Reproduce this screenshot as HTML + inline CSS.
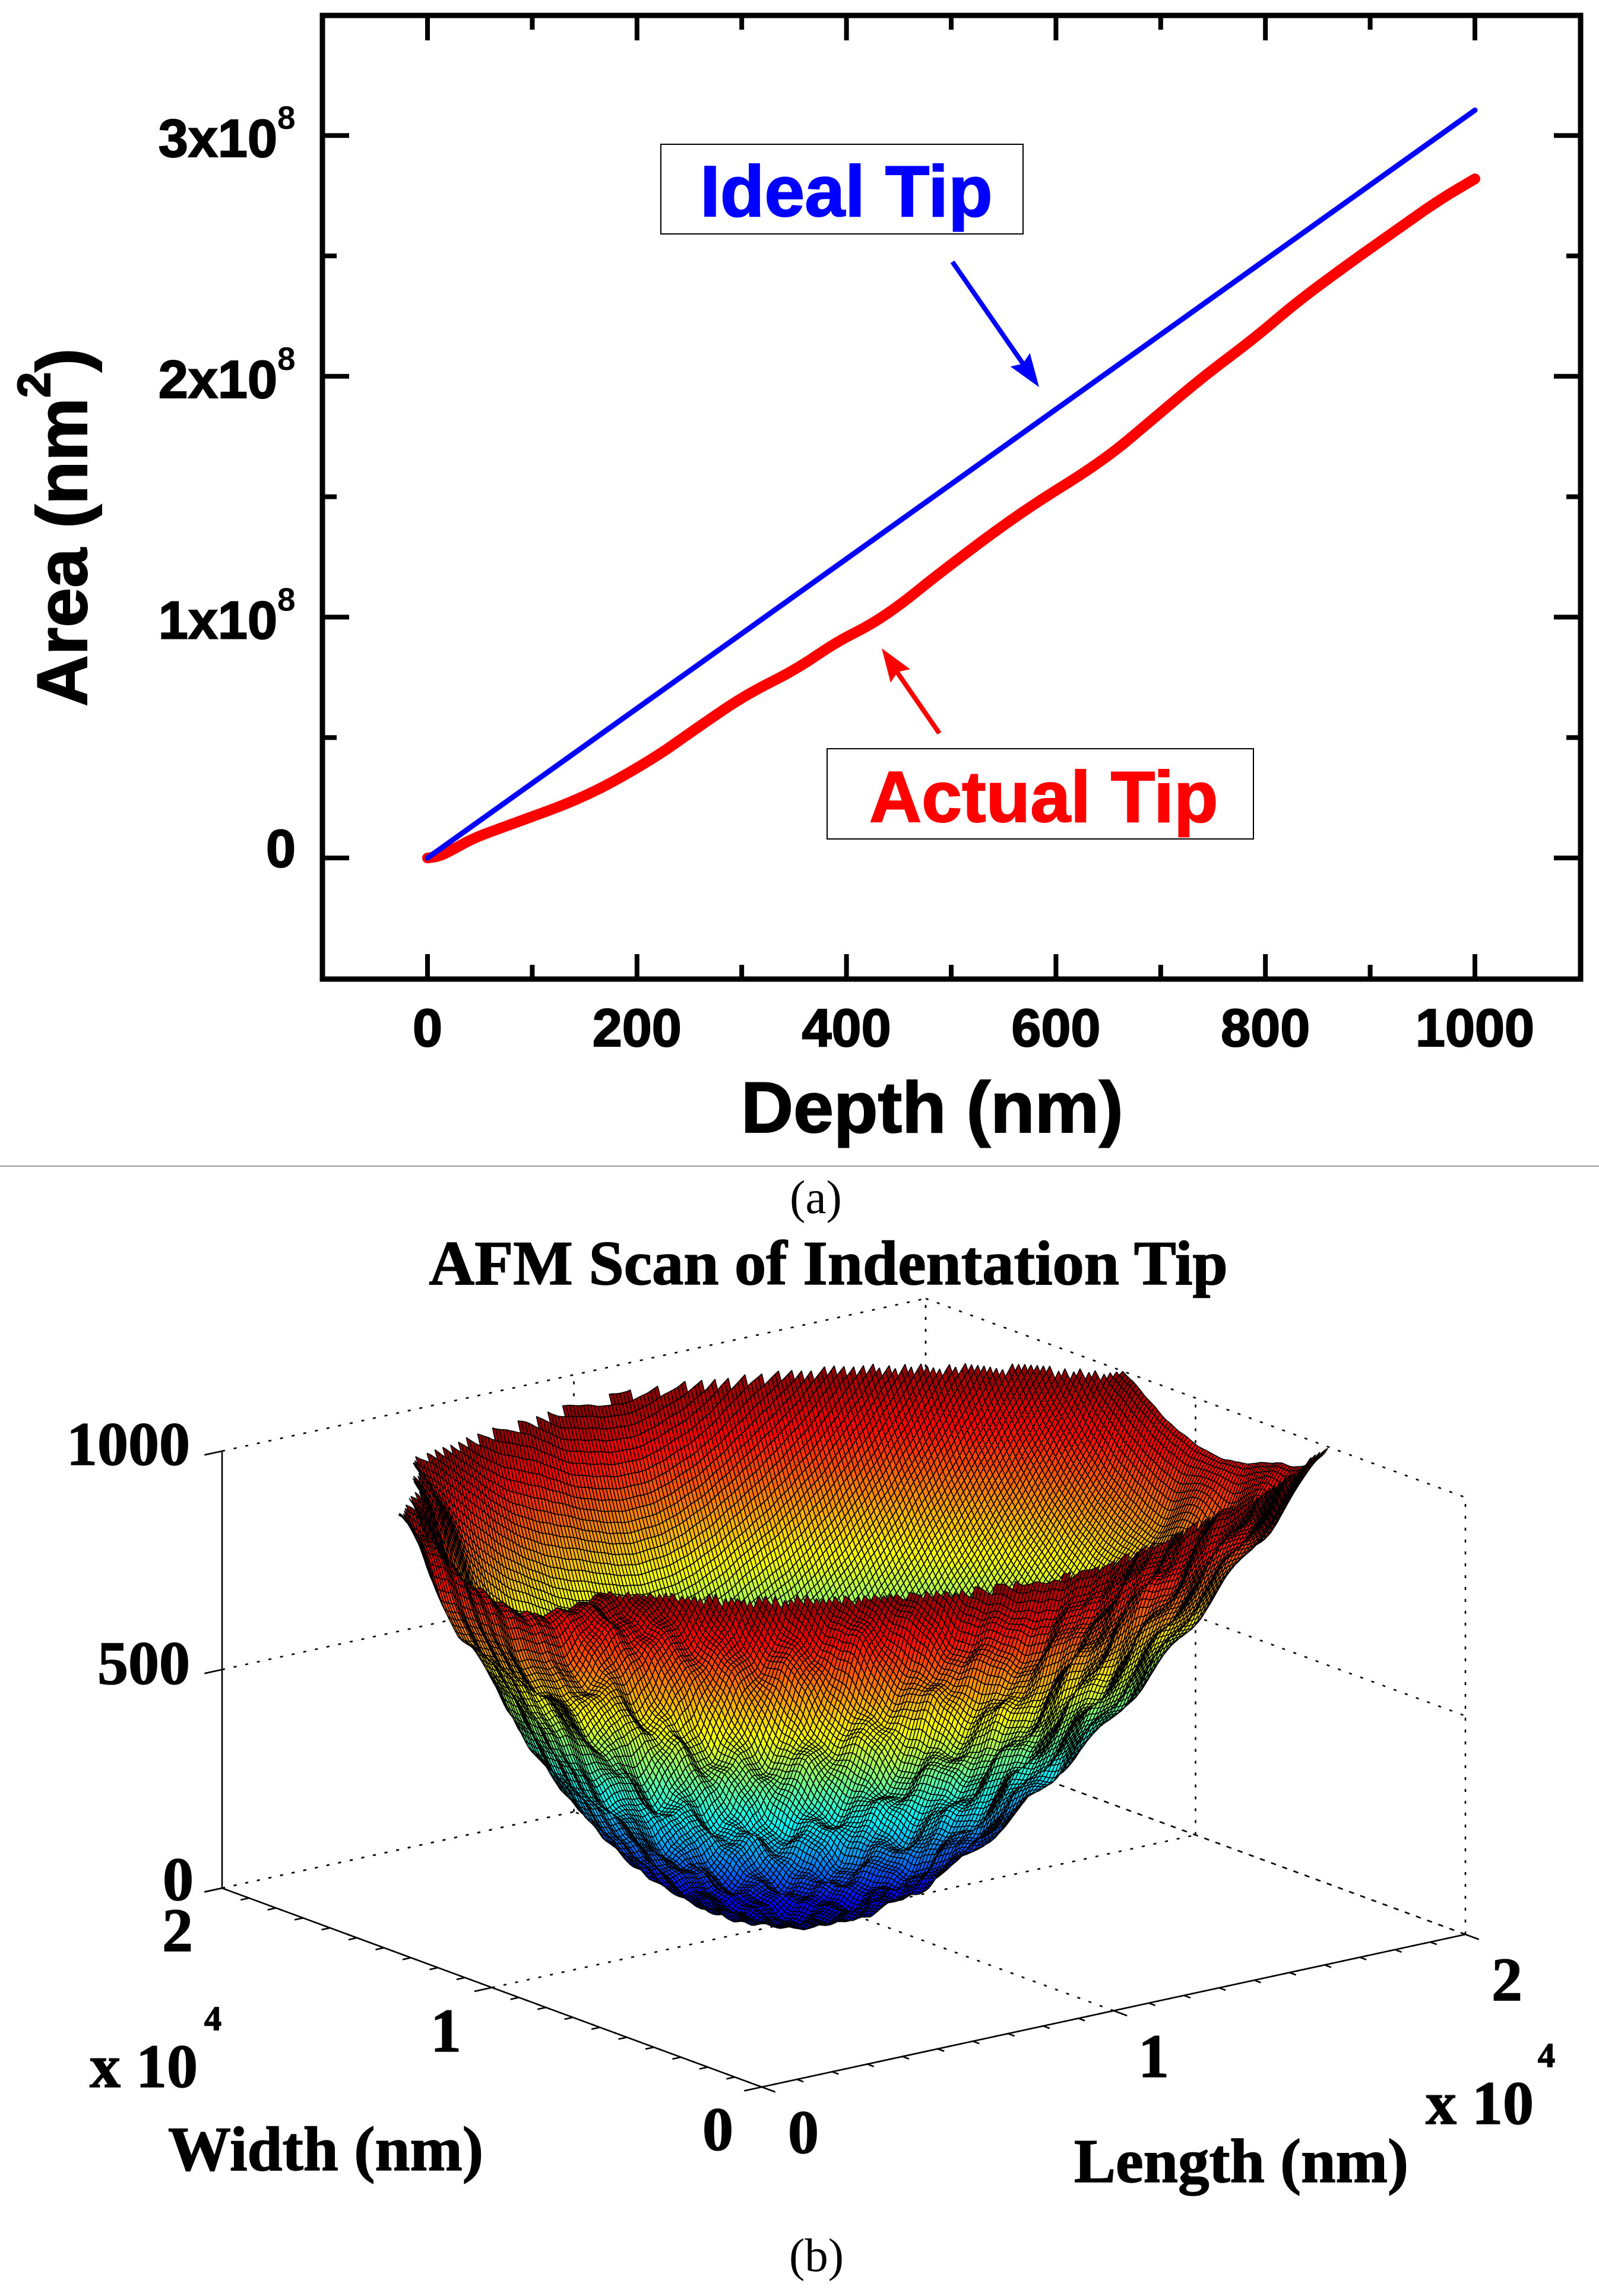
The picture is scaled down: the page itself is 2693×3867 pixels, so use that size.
<!DOCTYPE html>
<html lang="en">
<head>
<meta charset="utf-8">
<title>Indenter tip area and AFM scan</title>
<style>
html,body{margin:0;padding:0;background:#fff;}
svg{display:block;}
.sans{font-family:"Liberation Sans",sans-serif;font-weight:bold;stroke-width:2px;}
.serif{font-family:"Liberation Serif",serif;font-weight:bold;stroke:#000;stroke-width:1.5px;}
</style>
</head>
<body>
<svg id="fig" xmlns="http://www.w3.org/2000/svg" width="2693" height="3867" viewBox="0 0 2693 3867">
  <rect x="0" y="0" width="2693" height="3867" fill="#fff"/>
  <g id="plotA"></g>
  <line x1="0" y1="1964" x2="2693" y2="1964" stroke="#9a9a9a" stroke-width="2"/>
  <text x="1374" y="2043" font-family="Liberation Serif, serif" font-size="79" text-anchor="middle">(a)</text>
  <g id="plotB"></g>
  <text x="1375" y="3825" font-family="Liberation Serif, serif" font-size="79" text-anchor="middle">(b)</text>
</svg>
<script>
/* ---------- Panel (a) data ---------- */
const depthTicks = [0, 200, 400, 600, 800, 1000];
const depthMinorTicks = [100, 300, 500, 700, 900];
const areaTicks = [0, 1, 2, 3];
const areaTickLabels = ['0', '1x10', '2x10', '3x10'];
const areaMinorTicks = [0.5, 1.5, 2.5];
const idealDepth = [0, 1000];
const idealArea = [0, 3.105];
const actualDepth = [0, 10, 20, 45, 79, 152, 215, 254, 303, 351, 390, 424, 454, 488, 566, 644, 692, 741, 790, 829, 877, 926, 965, 1000];
const actualArea = [0, 0.005, 0.025, 0.085, 0.138, 0.255, 0.41, 0.53, 0.676, 0.78, 0.896, 0.97, 1.06, 1.18, 1.435, 1.645, 1.82, 2.0, 2.16, 2.305, 2.46, 2.61, 2.73, 2.82];

/* ---------- Panel (b) data: surface height (nm) sampled every 1000 nm;
   rows run along Width 0..20000, columns along Length 0..20000 ---------- */
const surfaceHeights = [
[2262,2057,1885,1716,1568,1442,1339,1260,1207,1181,1199,1263,1335,1440,1581,1696,1767,1885,2016,2171,2317],
[2001,1798,1626,1480,1330,1202,1096,1015,967,950,960,1001,1074,1183,1296,1371,1470,1582,1715,1842,1968],
[1758,1560,1401,1245,1114,985,892,828,785,769,784,828,884,961,1020,1103,1199,1313,1424,1560,1699],
[1564,1369,1200,1046,918,818,725,657,618,606,620,664,731,796,846,907,977,1063,1180,1299,1428],
[1388,1187,1023,872,748,650,571,507,468,455,471,516,581,637,695,763,830,900,969,1071,1213],
[1110,1010,882,732,604,508,429,374,335,323,340,385,446,499,561,628,699,770,849,924,1009],
[1000,917,770,610,482,384,309,258,224,212,228,272,322,378,440,504,579,650,729,817,935],
[942,841,683,525,393,291,212,161,133,123,137,178,224,278,338,404,477,569,669,776,919],
[905,757,625,461,331,224,148,94,64,57,71,106,149,200,268,346,434,531,632,741,895],
[885,692,582,420,288,183,105,53,24,17,31,62,108,165,234,314,404,501,606,752,883],
[895,703,574,409,274,168,89,35,6,0,17,49,97,155,228,311,404,505,615,732,894],
[912,722,579,416,278,170,91,35,10,10,26,60,109,171,245,329,423,527,639,759,922],
[960,741,611,440,302,190,114,62,46,50,62,98,144,208,285,372,471,575,688,809,968],
[990,774,656,485,353,247,168,130,114,116,127,161,208,270,349,438,539,648,764,891,1021],
[1030,960,780,577,439,330,251,235,215,209,220,252,302,362,438,532,633,744,864,986,1144],
[1150,1050,960,696,553,446,408,369,353,336,345,376,431,485,560,651,757,869,990,1129,1285],
[1320,1130,1040,930,740,631,588,543,519,501,503,532,586,641,713,801,904,1024,1153,1294,1453],
[1476,1305,1152,1017,950,869,796,754,724,697,696,723,773,834,901,988,1085,1203,1338,1479,1640],
[1629,1458,1305,1248,1158,1092,1048,1017,962,940,928,950,990,1062,1115,1192,1287,1404,1537,1693,1855],
[1800,1629,1525,1430,1360,1312,1276,1232,1196,1180,1160,1182,1217,1286,1346,1419,1516,1632,1763,1919,2090],
[1989,1878,1776,1700,1633,1591,1534,1482,1450,1415,1404,1427,1463,1521,1589,1679,1774,1870,2016,2161,2343]
];
/* radial folds on the near wall, added to the heights above (nm) */
const foldRelief = [
[0,0,0,0,0,0,0,0,0,0,0,0,0,0,0,0,0,0,0,0,0],
[0,0,0,0,0,0,0,0,0,0,0,0,0,0,0,0,0,0,0,0,0],
[0,0,0,0,0,0,25,-20,15,-25,20,-10,25,-15,20,0,0,0,0,0,0],
[0,0,0,0,-15,25,-20,30,-25,15,-30,25,-15,30,-20,25,-15,0,0,0,0],
[0,0,0,-20,30,-25,20,-30,25,-20,30,-25,20,-30,25,-20,30,-20,15,0,0],
[0,0,-15,25,-30,20,-25,30,-15,25,-20,30,-25,15,-30,25,-20,30,-25,15,0],
[0,-15,25,-25,15,-30,25,-15,20,-20,25,-15,25,-30,20,-25,30,-20,25,-20,0],
[0,20,-25,30,-20,25,-15,15,-10,10,-15,15,-20,25,-15,20,-25,20,-15,25,0],
[0,-20,25,-30,25,-15,10,-8,5,0,5,-8,10,-15,20,-25,15,-25,20,-15,0],
[0,15,-25,20,-15,10,-5,3,0,0,0,3,-5,10,-15,15,-20,20,-15,10,0],
[0,-15,20,-15,10,-5,0,0,0,0,0,0,0,-5,5,-10,10,-15,10,-5,0]
];
const rowRelief = [2,4,3,0,-3,-6,-4,-1,3,6,7,3,-2,-3,-1,1,-2,-6,-7,-3,1,5,2,0,-4,-5,-1,2,6,8,4,1,-1,-5,-8,-5,-2,1,0,3,5,2,-3,-4,-2,0,1];
const colRelief = [-2,0,3,5,2,-1,-5,-6,-3,1,2,0,-3,-1,3,6,7,4,0,-3,-6,-4,-2,1,4,2,-1,-2,0,3,1,-3,-7,-5,-1,2,5,7,3,0,-2,-5,-3,0,1,-1,-4,-2,2,4,6,3,-1,-4,-6,-3,0,2,4,1,-1];
const zTicks = [0, 500, 1000];
const planTicks = [0, 10000, 20000];
const planTickLabels = ['0', '1', '2'];
const minorPlanTicks = [1000,2000,3000,4000,5000,6000,7000,8000,9000,10000,11000,12000,13000,14000,15000,16000,17000,18000,19000,20000];

const NS = 'http://www.w3.org/2000/svg';
function mk(parent, tag, attrs, txt) {
  const e = document.createElementNS(NS, tag);
  for (const k in attrs) e.setAttribute(k, attrs[k]);
  if (txt !== undefined) e.textContent = txt;
  parent.appendChild(e);
  return e;
}

/* ---------- Panel (a) ---------- */
const A = document.getElementById('plotA');
const boxL = 543, boxR = 2662, boxT = 26, boxB = 1649;
function xScale(d) { return 720 + d * (2484 - 720) / 1000; }
function yScale(a) { return 1445 - a * 405.6; }
function polyPath(xs, ys) {
  return xs.map((v, i) => (i ? 'L' : 'M') + xScale(v).toFixed(1) + ' ' + yScale(ys[i]).toFixed(1)).join('');
}
function smoothPath(xs, ys) {
  const X = xs.map(xScale), Y = ys.map(yScale);
  let d = 'M' + X[0].toFixed(1) + ' ' + Y[0].toFixed(1);
  for (let i = 1; i < X.length - 1; i++) {
    d += 'Q' + X[i].toFixed(1) + ' ' + Y[i].toFixed(1) + ' ' + ((X[i] + X[i + 1]) / 2).toFixed(1) + ' ' + ((Y[i] + Y[i + 1]) / 2).toFixed(1);
  }
  return d + 'L' + X[X.length - 1].toFixed(1) + ' ' + Y[Y.length - 1].toFixed(1);
}
let el;
el = mk(A, 'rect', {x: boxL, y: boxT, width: boxR - boxL, height: boxB - boxT, fill: 'none', stroke: '#000', 'stroke-width': 9});



depthTicks.forEach(d => {
  const x = xScale(d);
  el = mk(A, 'line', {x1: x, x2: x, y1: boxB, y2: boxB - 42, stroke: '#000', 'stroke-width': 8});
  
  
  el = mk(A, 'line', {x1: x, x2: x, y1: boxT, y2: boxT + 42, stroke: '#000', 'stroke-width': 8});
  
  
  el = mk(A, 'text', {x: x, y: 1762, 'font-size': 90, 'text-anchor': 'middle', class: 'sans', stroke: '#000'}, String(d));
  
  
});
depthMinorTicks.forEach(d => {
  const x = xScale(d);
  el = mk(A, 'line', {x1: x, x2: x, y1: boxB, y2: boxB - 24, stroke: '#000', 'stroke-width': 8});
  
  
  el = mk(A, 'line', {x1: x, x2: x, y1: boxT, y2: boxT + 24, stroke: '#000', 'stroke-width': 8});
  
  
});
areaTicks.forEach((a, i) => {
  const y = yScale(a);
  el = mk(A, 'line', {x1: boxL, x2: boxL + 45, y1: y, y2: y, stroke: '#000', 'stroke-width': 8});
  
  
  el = mk(A, 'line', {x1: boxR, x2: boxR - 45, y1: y, y2: y, stroke: '#000', 'stroke-width': 8});
  
  
  const base = a === 0 ? y + 15 : y + 36;
  el = mk(A, 'text', {x: a === 0 ? 498 : 467, y: base, 'font-size': 90, 'text-anchor': 'end', class: 'sans', stroke: '#000'}, areaTickLabels[i]);
  
  
  if (a !== 0) {
    el = mk(A, 'text', {x: 467, y: y - 11, 'font-size': 55, class: 'sans'}, '8');
    
    
  }
});
areaMinorTicks.forEach(a => {
  const y = yScale(a);
  el = mk(A, 'line', {x1: boxL, x2: boxL + 24, y1: y, y2: y, stroke: '#000', 'stroke-width': 8});
  
  
  el = mk(A, 'line', {x1: boxR, x2: boxR - 24, y1: y, y2: y, stroke: '#000', 'stroke-width': 8});
  
  
});
el = mk(A, 'path', {d: smoothPath(actualDepth, actualArea), fill: 'none', stroke: '#ff0000', 'stroke-width': 18, 'stroke-linecap': 'round', 'stroke-linejoin': 'round'});


el = mk(A, 'path', {d: polyPath(idealDepth, idealArea), fill: 'none', stroke: '#0000ff', 'stroke-width': 9, 'stroke-linecap': 'round'});



el = mk(A, 'text', {x: 1248, y: 1907, 'font-size': 122, class: 'sans', stroke: '#000'}, 'Depth (nm)');


const yt = mk(A, 'text', {transform: 'translate(146,1190) rotate(-90)', 'font-size': 120, class: 'sans', stroke: '#000'});


mk(yt, 'tspan', {}, 'Area (nm');
mk(yt, 'tspan', {'font-size': 78, dy: -62}, '2');
mk(yt, 'tspan', {dy: 62}, ')');

el = mk(A, 'rect', {x: 1113, y: 243, width: 610, height: 151, fill: '#fff', stroke: '#000', 'stroke-width': 2});


el = mk(A, 'text', {x: 1179, y: 364, 'font-size': 122, fill: '#0000ff', stroke: '#0000ff', class: 'sans'}, 'Ideal Tip');


el = mk(A, 'rect', {x: 1393, y: 1261, width: 718, height: 152, fill: '#fff', stroke: '#000', 'stroke-width': 2});


el = mk(A, 'text', {x: 1464, y: 1384, 'font-size': 122, fill: '#ff0000', stroke: '#ff0000', class: 'sans'}, 'Actual Tip');



function arrowHead(x1, y1, x2, y2, len, half) {
  const d = Math.hypot(x2 - x1, y2 - y1), ux = (x2 - x1) / d, uy = (y2 - y1) / d;
  const bx = x2 - ux * len, by = y2 - uy * len;
  return x2 + ',' + y2 + ' ' + (bx - uy * half) + ',' + (by + ux * half) + ' ' + (bx + ux * 8) + ',' + (by + uy * 8) + ' ' + (bx + uy * half) + ',' + (by - ux * half);
}
el = mk(A, 'line', {x1: 1604, y1: 441, x2: 1735, y2: 630, stroke: '#0000ff', 'stroke-width': 8});


el = mk(A, 'polygon', {points: arrowHead(1604, 441, 1750, 652, 56, 20), fill: '#0000ff'});


el = mk(A, 'line', {x1: 1582, y1: 1235, x2: 1497, y2: 1112, stroke: '#ff0000', 'stroke-width': 8});


el = mk(A, 'polygon', {points: arrowHead(1582, 1235, 1485, 1092, 56, 20), fill: '#ff0000'});



/* ---------- Panel (b) ---------- */
const B = document.getElementById('plotB');
const O = [1283, 3515], LE = [2468, 3258], WE = [374, 3180], Zpx = 736, SPAN = 20000, ZMAX = 1000;
function px(L, W) { return O[0] + L / SPAN * (LE[0] - O[0]) + W / SPAN * (WE[0] - O[0]); }
function py(L, W, Z) { return O[1] + L / SPAN * (LE[1] - O[1]) + W / SPAN * (WE[1] - O[1]) - Z / ZMAX * Zpx; }

function dotted(a, b) {
  const e = mk(B, 'line', {x1: px(a[0], a[1]), y1: py(a[0], a[1], a[2]), x2: px(b[0], b[1]), y2: py(b[0], b[1], b[2]), stroke: '#000', 'stroke-width': 2.6, 'stroke-dasharray': '5 15'});
  return e;
}
zTicks.forEach(z => {
  el = dotted([0, SPAN, z], [SPAN, SPAN, z]);
  
  
  el = dotted([SPAN, SPAN, z], [SPAN, 0, z]);
  
  
});
planTicks.forEach(t => {
  if (t > 0) {
    el = dotted([t, SPAN, 0], [t, SPAN, ZMAX]);
    
    
    el = dotted([SPAN, t, 0], [SPAN, t, ZMAX]);
    
    
  }
  el = dotted([t, 0, 0], [t, SPAN, 0]);
  
  
  el = dotted([0, t, 0], [SPAN, t, 0]);
  
  
});
el = dotted([SPAN, 0, 0], [SPAN, 0, ZMAX]);



/* solid axes */
el = mk(B, 'line', {x1: px(0, SPAN), y1: py(0, SPAN, 0), x2: px(0, SPAN), y2: py(0, SPAN, ZMAX), stroke: '#000', 'stroke-width': 2.6});


el = mk(B, 'line', {x1: px(0, 0), y1: py(0, 0, 0), x2: px(0, SPAN), y2: py(0, SPAN, 0), stroke: '#000', 'stroke-width': 2.6});


el = mk(B, 'line', {x1: px(0, 0), y1: py(0, 0, 0), x2: px(SPAN, 0), y2: py(SPAN, 0, 0), stroke: '#000', 'stroke-width': 2.6});



[0].concat(minorPlanTicks).forEach(t => {
  const f = (t % 10000 === 0) ? 500 : 240;
  el = mk(B, 'line', {x1: px(0, t), y1: py(0, t, 0), x2: px(-f, t), y2: py(-f, t, 0), stroke: '#000', 'stroke-width': 2.6});
  
  
  el = mk(B, 'line', {x1: px(t, 0), y1: py(t, 0, 0), x2: px(t, -f), y2: py(t, -f, 0), stroke: '#000', 'stroke-width': 2.6});
  
  
});
zTicks.forEach(z => {
  el = mk(B, 'line', {x1: px(0, SPAN), y1: py(0, SPAN, z), x2: px(-500, SPAN), y2: py(-500, SPAN, z), stroke: '#000', 'stroke-width': 2.6});
  
  
});

/* surface */
function jet(t) {
  t = Math.max(0, Math.min(1, t));
  t = Math.round(t * 63) / 63;
  const c = v => Math.round(255 * Math.max(0, Math.min(1, v)));
  const r = 1.5 - Math.abs(4 * t - 3);
  const g = 1.5 - Math.abs(4 * t - 2);
  const b = 1.5 - Math.abs(4 * t - 1);
  return 'rgb(' + c(r) + ',' + c(g) + ',' + c(b) + ')';
}
function cr(p0, p1, p2, p3, t) {
  return 0.5 * (2 * p1 + (p2 - p0) * t + (2 * p0 - 5 * p1 + 4 * p2 - p3) * t * t + (3 * p1 - p0 - 3 * p2 + p3) * t * t * t);
}
const coarseRows = surfaceHeights.length, coarseCols = surfaceHeights[0].length;
function hAt(r, c) {
  r = Math.max(0, Math.min(coarseRows - 1, r));
  c = Math.max(0, Math.min(coarseCols - 1, c));
  const fold = r < foldRelief.length ? foldRelief[r][c] : 0;
  return surfaceHeights[r][c] + fold;
}
function sampleHeight(rf, cf) {
  const r = Math.min(coarseRows - 2, Math.floor(rf)), c = Math.min(coarseCols - 2, Math.floor(cf));
  const tr = rf - r, tc = cf - c, vals = [];
  for (let k = -1; k <= 2; k++) {
    vals.push(cr(hAt(r + k, c - 1), hAt(r + k, c), hAt(r + k, c + 1), hAt(r + k, c + 2), tc));
  }
  return cr(vals[0], vals[1], vals[2], vals[3], tr);
}
const N = 200;
const step = SPAN / N;
const fine = [];
for (let j = 0; j <= N; j++) {
  const row = [];
  for (let i = 0; i <= N; i++) {
    let z = sampleHeight(j * (coarseRows - 1) / N, i * (coarseCols - 1) / N);
    const s = (i + j) / N;
    const gain = s <= 0.8 ? 1 : (s >= 1.1 ? 0.25 : 1 - 0.75 * (s - 0.8) / 0.3);
    z += gain * (rowRelief[j % rowRelief.length] + colRelief[i % colRelief.length]);
    row.push(z);
  }
  fine.push(row);
}
const surf = mk(B, 'g', {stroke: '#000', 'stroke-width': 1.6, 'stroke-linejoin': 'bevel'});


for (let j = N - 1; j >= 0; j--) {
  const bands = new Map();
  for (let i = N - 1; i >= 0; i--) {
    const z00 = fine[j][i], z10 = fine[j][i + 1], z01 = fine[j + 1][i], z11 = fine[j + 1][i + 1];
    if (Math.max(z00, z10, z01, z11) > ZMAX) continue;
    const L0 = i * step, L1 = L0 + step, W0 = j * step, W1 = W0 + step;
    const col = jet((z00 + z10 + z01 + z11) / 4 / ZMAX);
    const d = 'M' + px(L0, W0).toFixed(1) + ' ' + py(L0, W0, z00).toFixed(1) +
      'L' + px(L1, W0).toFixed(1) + ' ' + py(L1, W0, z10).toFixed(1) +
      'L' + px(L1, W1).toFixed(1) + ' ' + py(L1, W1, z11).toFixed(1) +
      'L' + px(L0, W1).toFixed(1) + ' ' + py(L0, W1, z01).toFixed(1) + 'Z';
    bands.set(col, (bands.get(col) || '') + d);
  }
  bands.forEach((d, col) => {
    const p = mk(surf, 'path', {d: d, fill: col});
    
    
  });
}

/* labels */
function serif(x, y, size, anchor, s) {
  const t = mk(B, 'text', {x: x, y: y, 'font-size': size, 'text-anchor': anchor, class: 'serif'}, s);
  return t;
}
el = serif(1395, 2163, 106.5, 'middle', 'AFM Scan of Indentation Tip');


el = serif(320, 2467, 104, 'end', '1000');


el = serif(320, 2836, 104, 'end', '500');


el = serif(326, 3200, 104, 'end', '0');


const widthLabelPos = [[1209, 3621], [751, 3455], [299, 3286]];
const lengthLabelPos = [[1353, 3626], [1943, 3498], [2538, 3369]];
planTickLabels.forEach((s, i) => {
  el = serif(widthLabelPos[i][0], widthLabelPos[i][1], 104, 'middle', s);
  
  
  el = serif(lengthLabelPos[i][0], lengthLabelPos[i][1], 104, 'middle', s);
  
  
});
el = serif(151, 3515, 104, 'start', 'x 10');


el = serif(344, 3419, 58, 'start', '4');


el = serif(2401, 3577, 104, 'start', 'x 10');


el = serif(2590, 3481, 58, 'start', '4');


el = serif(283, 3655, 106, 'start', 'Width (nm)');


el = serif(1809, 3675, 105, 'start', 'Length (nm)');


</script>
</body>
</html>
